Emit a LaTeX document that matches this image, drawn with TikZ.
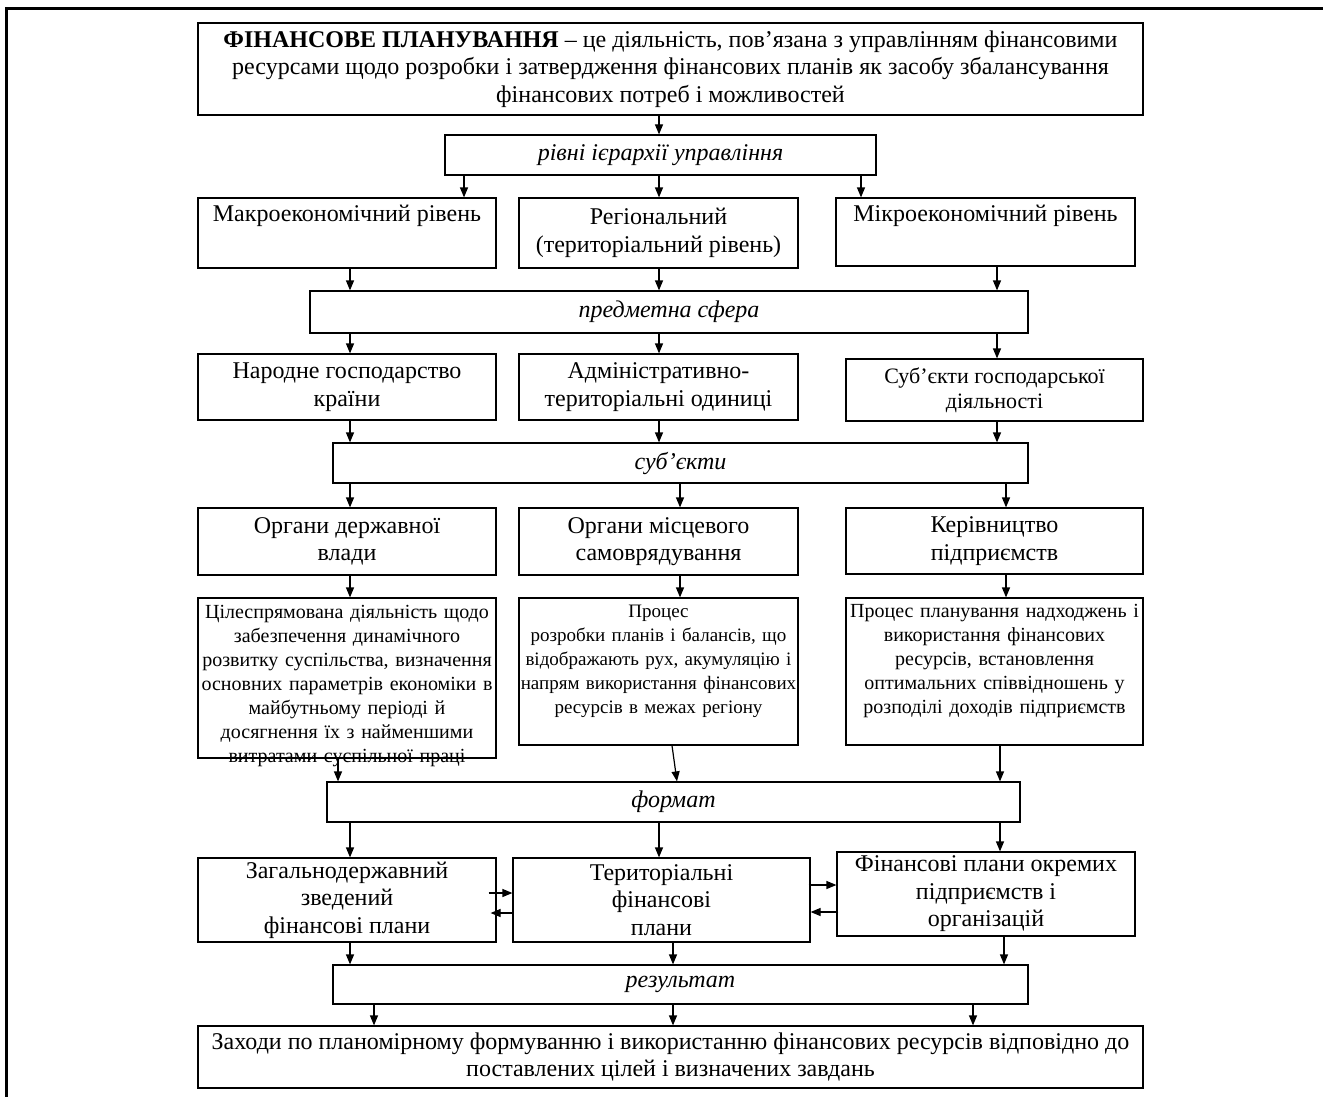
\documentclass[tikz,border=0pt]{standalone}
\usepackage{fontspec}
\setmainfont{Liberation Serif}
\usetikzlibrary{arrows.meta}
\tikzset{
  every picture/.style={line width=1.2pt},
  box/.style={draw, align=center, inner xsep=2pt, inner ysep=1pt, font=\fontsize{24}{27.5}\selectfont},
  level/.style={box, font=\fontsize{24}{27.5}\selectfont\itshape},
  desc/.style={box, inner xsep=0.5pt, font=\fontsize{20}{24}\selectfont},
  arrow/.style={-{Triangle[length=10pt, width=8pt]}, line width=1.2pt},
}
\begin{document}
\begin{tikzpicture}[x=1pt, y=-1pt]
  \useasboundingbox (0,0) rectangle (1323,1097);
  \draw[line width=3pt] (6.5,1097) -- (6.5,8.5) -- (1323,8.5);

  \node[box, minimum width=945pt, minimum height=92pt] (top) at (670.5,69) {\textbf{ФІНАНСОВЕ ПЛАНУВАННЯ} – це діяльність, пов’язана з управлінням фінансовими\\ресурсами щодо розробки і затвердження фінансових планів як засобу збалансування\\фінансових потреб і можливостей};
  \node[level, minimum width=431pt, minimum height=40pt] (lvl1) at (660.5,155) {рівні ієрархії управління};

  \node[box, minimum width=298pt, text height=22.5pt, text depth=45.5pt] (macro) at (347,233) {Макроекономічний рівень};
  \node[box, minimum width=279pt, minimum height=70pt] (region) at (658.5,233) {Регіональний\\(територіальний рівень)};
  \node[box, minimum width=299pt, text height=22.5pt, text depth=43.5pt] (micro) at (985.5,232) {Мікроекономічний рівень};

  \node[level, minimum width=718pt, minimum height=42pt] (lvl2) at (669,312) {предметна сфера};

  \node[box, minimum width=298pt, minimum height=66pt] (econ) at (347,387) {Народне господарство\\країни};
  \node[box, minimum width=279pt, minimum height=66pt] (admin) at (658.5,387) {Адміністративно-\\територіальні одиниці};
  \node[box, minimum width=297pt, minimum height=62pt, font=\fontsize{22}{25}\selectfont] (subj) at (994.5,390) {Суб’єкти господарської\\діяльності};

  \node[level, minimum width=695pt, minimum height=40pt] (lvl3) at (680.5,463) {суб’єкти};

  \node[box, minimum width=298pt, minimum height=67pt] (gov) at (347,541.5) {Органи державної\\влади};
  \node[box, minimum width=279pt, minimum height=67pt] (local) at (658.5,541.5) {Органи місцевого\\самоврядування};
  \node[box, minimum width=297pt, minimum height=66pt] (mgmt) at (994.5,541) {Керівництво\\підприємств};

  \node[desc, text width=297pt, text height=19pt, text depth=139pt] (dgov) at (347,678) {Цілеспрямована діяльність щодо\\забезпечення динамічного\\розвитку суспільства, визначення\\основних параметрів економіки в\\майбутньому періоді й\\досягнення їх з найменшими\\витратами суспільної праці};
  \node[desc, text width=278pt, text height=18pt, text depth=127pt, font=\fontsize{19}{24}\selectfont] (dlocal) at (658.5,671.5) {Процес\\розробки планів і балансів, що\\відображають рух, акумуляцію і\\напрям використання фінансових\\ресурсів в межах регіону};
  \node[desc, text width=296pt, text height=18pt, text depth=127pt] (dmgmt) at (994.5,671.5) {Процес планування надходжень і\\використання фінансових\\ресурсів, встановлення\\оптимальних співвідношень у\\розподілі доходів підприємств};

  \node[level, minimum width=693pt, minimum height=40pt] (lvl4) at (673.5,802) {формат};

  \node[box, minimum width=298pt, minimum height=84pt] (nat) at (347,900) {Загальнодержавний\\зведений\\фінансові плани};
  \node[box, minimum width=297pt, minimum height=84pt] (terr) at (661.5,900) {Територіальні\\фінансові\\плани};
  \node[box, minimum width=298pt, minimum height=84pt] (ent) at (986,894) {Фінансові плани окремих\\підприємств і\\організацій};

  \node[level, minimum width=695pt, minimum height=39pt] (lvl5) at (680.5,984.5) {результат};

  \node[box, minimum width=945pt, minimum height=62pt] (res) at (670.5,1057) {Заходи по планомірному формуванню і використанню фінансових ресурсів відповідно до\\поставлених цілей і визначених завдань};

  \draw[arrow] ([xshift=-11.5pt]top.south) -- ([xshift=-1.5pt]lvl1.north);
  \draw[arrow] ([xshift=-196.5pt]lvl1.south) -- ([xshift=117pt]macro.north);
  \draw[arrow] ([xshift=-1.5pt]lvl1.south) -- ([xshift=0.5pt]region.north);
  \draw[arrow] ([xshift=200.5pt]lvl1.south) -- ([xshift=-124.5pt]micro.north);
  \draw[arrow] ([xshift=3pt]macro.south) -- ([xshift=-319pt]lvl2.north);
  \draw[arrow] ([xshift=0.5pt]region.south) -- ([xshift=-10pt]lvl2.north);
  \draw[arrow] ([xshift=11.5pt]micro.south) -- ([xshift=328pt]lvl2.north);
  \draw[arrow] ([xshift=-319pt]lvl2.south) -- ([xshift=3pt]econ.north);
  \draw[arrow] ([xshift=-10pt]lvl2.south) -- ([xshift=0.5pt]admin.north);
  \draw[arrow] ([xshift=328pt]lvl2.south) -- ([xshift=2.5pt]subj.north);
  \draw[arrow] ([xshift=3pt]econ.south) -- ([xshift=-330.5pt]lvl3.north);
  \draw[arrow] ([xshift=0.5pt]admin.south) -- ([xshift=-21.5pt]lvl3.north);
  \draw[arrow] ([xshift=2.5pt]subj.south) -- ([xshift=316.5pt]lvl3.north);
  \draw[arrow] ([xshift=-330.5pt]lvl3.south) -- ([xshift=3pt]gov.north);
  \draw[arrow] ([xshift=-0.5pt]lvl3.south) -- ([xshift=21.5pt]local.north);
  \draw[arrow] ([xshift=325.5pt]lvl3.south) -- ([xshift=11.5pt]mgmt.north);
  \draw[arrow] ([xshift=3pt]gov.south) -- ([xshift=3pt]dgov.north);
  \draw[arrow] ([xshift=21.5pt]local.south) -- ([xshift=21.5pt]dlocal.north);
  \draw[arrow] ([xshift=11.5pt]mgmt.south) -- ([xshift=11.5pt]dmgmt.north);
  \draw[arrow] ([xshift=-9pt]dgov.south) -- ([xshift=-335.5pt]lvl4.north);
  \draw[arrow] ([xshift=13.5pt]dlocal.south) -- ([xshift=3.5pt]lvl4.north);
  \draw[arrow] ([xshift=5.5pt]dmgmt.south) -- ([xshift=326.5pt]lvl4.north);
  \draw[arrow] ([xshift=-323.5pt]lvl4.south) -- ([xshift=3pt]nat.north);
  \draw[arrow] ([xshift=-14.5pt]lvl4.south) -- ([xshift=-2.5pt]terr.north);
  \draw[arrow] ([xshift=326.5pt]lvl4.south) -- ([xshift=14pt]ent.north);
  \draw[arrow, shorten <=-8pt] ([yshift=7pt]nat.east) -- ([yshift=7pt]terr.west);
  \draw[arrow, shorten >=-6pt] ([yshift=-13pt]terr.west) -- ([yshift=-13pt]nat.east);
  \draw[arrow, shorten <=-2pt] ([yshift=15pt]terr.east) -- ([yshift=9pt]ent.west);
  \draw[arrow, shorten <=-2pt] ([yshift=-18pt]ent.west) -- ([yshift=-12pt]terr.east);
  \draw[arrow] ([xshift=3pt]nat.south) -- ([xshift=-330.5pt]lvl5.north);
  \draw[arrow] ([xshift=11.5pt]terr.south) -- ([xshift=-7.5pt]lvl5.north);
  \draw[arrow] ([xshift=18pt]ent.south) -- ([xshift=323.5pt]lvl5.north);
  \draw[arrow] ([xshift=-306.5pt]lvl5.south) -- ([xshift=-296.5pt]res.north);
  \draw[arrow] ([xshift=-7.5pt]lvl5.south) -- ([xshift=2.5pt]res.north);
  \draw[arrow] ([xshift=292.5pt]lvl5.south) -- ([xshift=302.5pt]res.north);
\end{tikzpicture}
\end{document}
